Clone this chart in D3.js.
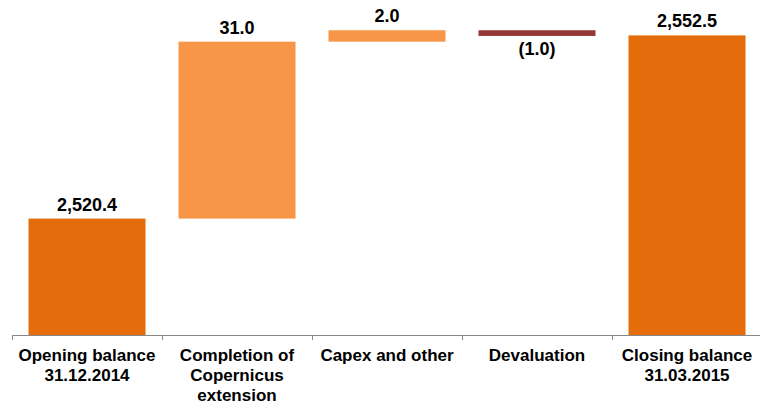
<!DOCTYPE html>
<html>
<head>
<meta charset="utf-8">
<script src="https://cdn.jsdelivr.net/npm/d3@7"></script>
<style>
  body { margin: 0; background: #fff; }
  text { font-family: "Liberation Sans", Arial, sans-serif; font-weight: bold; fill: #000; }
</style>
</head>
<body>
<svg id="chart" width="760" height="404"></svg>
<script>
// waterfall data
const categories = ['Opening balance\n31.12.2014', 'Completion of\nCopernicus\nextension', 'Capex and other', 'Devaluation', 'Closing balance\n31.03.2015'];
const kinds = ['total', 'delta', 'delta', 'delta', 'total'];
const values = [2520.4, 31.0, 2.0, -1.0, 2552.5];
const yDomain = [2500, 2558.7];

const width = 760, height = 404;
const svg = d3.select('#chart');

// build start / end of every bar
let running = 0;
const bars = categories.map((c, i) => {
    let v = values[i];
    let b;
    if (kinds[i] == 'total') {
        b = {cat: c, kind: kinds[i], value: v, y0: yDomain[0], y1: v};
        running = v;
    } else {
        b = {cat: c, kind: kinds[i], value: v, y0: running, y1: running + v};
        running += v;
    }
    return b;
});

const x = d3.scaleBand()
    .domain(categories)
    .range([12, 762])
    .paddingInner(0.22)
    .paddingOuter(0.11);

const y = d3.scaleLinear()
    .domain(yDomain)
    .range([335, 0]);

const color = d => d.kind == 'total' ? '#E46C0A' : (d.value < 0 ? '#953735' : '#F79646');
const fmt = d3.format(',.1f');
const label = v => v < 0 ? '(' + fmt(-v) + ')' : fmt(v);

svg.selectAll('rect.bar').data(bars)
    .enter().append('rect')
    .attr('class', 'bar')
    .attr('x', d => x(d.cat))
    .attr('width', x.bandwidth())
    .attr('y', d => y(Math.max(d.y0, d.y1)))
    .attr('height', d => Math.abs(y(d.y0) - y(d.y1)))
    .attr('fill', d => color(d));

// value labels: above bar, or under it for negative moves
svg.selectAll('text.val').data(bars)
    .enter().append('text')
    .attr('class', 'val')
    .attr('x', d => x(d.cat) + x.bandwidth() / 2)
    .attr('y', d => d.value < 0 ? y(Math.min(d.y0, d.y1)) + 19 : y(Math.max(d.y0, d.y1)) - 8)
    .attr('text-anchor', 'middle')
    .style('font-size', '18px')
    .text(d => label(d.value));

// category axis
const axisY = y(yDomain[0]);
svg.append('line')
    .attr('x1', 12).attr('x2', 760)
    .attr('y1', axisY + 0.5).attr('y2', axisY + 0.5)
    .attr('stroke', '#888').attr('stroke-width', 1);

const bounds = categories.map(c => x(c) - x.step() * x.paddingInner() / 2);
bounds[0] = 12;
svg.selectAll('line.tick').data(bounds)
    .enter().append('line')
    .attr('class', 'tick')
    .attr('x1', d => Math.round(d) + 0.5).attr('x2', d => Math.round(d) + 0.5)
    .attr('y1', axisY).attr('y2', axisY + 5)
    .attr('stroke', '#888');

const catText = svg.selectAll('text.cat').data(categories)
    .enter().append('text')
    .attr('class', 'cat')
    .attr('x', d => x(d) + x.bandwidth() / 2)
    .attr('y', 361)
    .attr('text-anchor', 'middle')
    .style('font-size', '17px');

catText.selectAll('tspan').data(d => d.split('\n'))
    .enter().append('tspan')
    .attr('x', function() { return this.parentNode.getAttribute('x'); })
    .attr('dy', (d, i) => i == 0 ? 0 : 20)
    .text(d => d);
</script>
</body>
</html>
